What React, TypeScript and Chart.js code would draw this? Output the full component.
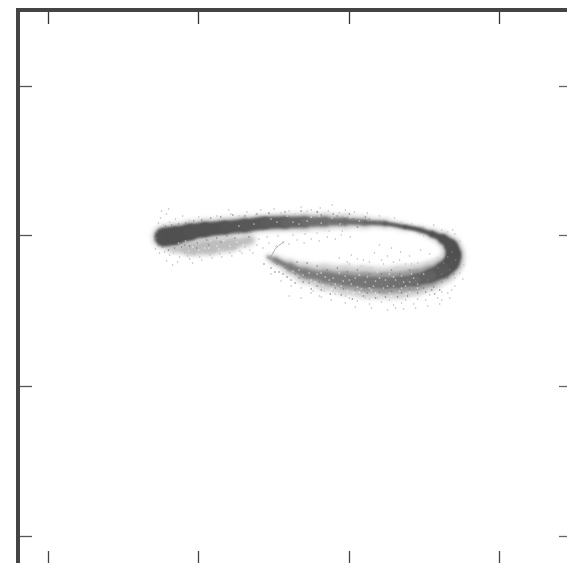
import React, { useEffect, useRef } from "react";
import { Chart, registerables } from "chart.js";

Chart.register(...registerables);

const xTicks = [0, 150, 300, 450];
const yTicks = [0, 150, 300, 450];

// ridge of the cloud
const ridgeX = [115.5, 126.4, 141.4, 156.3, 176.2, 196.1, 216, 236, 255.9, 275.8, 295.7, 315.6, 335.5, 355.4, 370.4, 382.3, 393.3, 401.2, 403.7, 401.2, 393.3, 380.3, 365.4, 350.4, 335.5, 315.6, 295.7, 275.8, 255.9, 240.9, 226, 219];
const ridgeY = [299, 300.5, 304, 306.5, 308.5, 310.5, 313, 313.5, 314, 314.5, 314.5, 313.5, 312.5, 309, 306, 302, 297, 290, 281, 273, 266, 260, 256, 254, 253, 254, 256, 259, 263, 269, 276, 279];
const coreSpread = [18, 16, 14, 13, 12, 12, 11, 10, 8, 6, 4.5, 3.5, 3, 3.5, 3.5, 5.5, 9, 13, 15, 15, 14, 12, 11, 11, 11, 10, 9, 7, 5, 3, 1, 0.5];
const coreTone = [80, 80, 82, 82, 85, 88, 92, 100, 110, 112, 110, 100, 85, 80, 80, 80, 80, 80, 80, 82, 88, 98, 108, 112, 115, 118, 122, 125, 125, 125, 130, 150];
const midSpread = [20, 18, 16, 15, 15, 14, 14, 13, 11, 9, 7, 5, 4, 4, 5, 7, 11, 15, 17, 18, 19, 20, 21, 21, 20, 18, 15, 12, 9, 6, 3, 1.5];
const outerSpread = [24, 22, 20, 19, 18, 17, 17, 17, 16, 14, 12, 9, 7, 5, 7, 10, 14, 19, 22, 24, 26, 28, 30, 31, 31, 29, 26, 21, 15, 10, 5, 2];

const lobeX = [124, 142, 162, 182, 201];
const lobeY = [291, 289, 290, 292, 296];
const lobeSpread = [14, 16, 14, 10, 5];

const hookX = [221, 224, 228, 235];
const hookY = [277, 283, 289, 294];

const greySpecks = [
  112,318, 115,311, 118,322, 121,314, 124,309, 127,317, 131,312, 134,320, 137,310, 141,315, 146,312, 150,319, 155,313, 160,316, 168,320, 175,317, 182,322, 190,320, 198,324, 207,321,
  117,307, 122,305, 128,306, 135,308, 143,309, 150,310, 158,312, 165,314, 172,314, 110,313, 113,325, 120,327, 180,326, 212,326, 225,327, 240,325, 252,329, 262,326, 271,328, 283,331,
  296,326, 305,324, 318,323, 330,320, 345,318, 220,322, 232,323, 246,322, 258,325, 268,324, 279,325, 290,323,
  116,284, 121,281, 127,286, 131,279, 136,283, 141,277, 146,282, 151,279, 156,284, 161,281, 166,285, 171,282, 176,286, 181,283, 186,288, 191,285, 196,289, 201,286, 208,291, 214,288,
  220,293, 227,290, 234,294, 240,292, 248,296, 255,293, 262,297, 270,295, 278,299, 286,297, 292,301, 301,299, 118,275, 124,271, 129,274, 144,273, 210,297, 218,299, 229,300, 244,301, 256,302, 268,303, 280,305, 293,305,
  330,291, 342,288, 351,284, 360,280, 371,286, 380,282, 388,278, 362,272, 350,276, 338,280, 325,283, 314,276, 302,281, 290,278, 300,272, 312,270, 322,268, 334,272, 346,268, 356,266, 366,266, 375,268,
  270,240, 282,236, 296,233, 308,235, 320,232, 332,234, 344,231, 356,236, 368,237, 380,241, 392,244, 405,250, 413,257, 300,238, 316,238, 328,238, 340,236, 352,233, 364,232, 376,236, 388,238, 398,243,
  405,258, 410,268, 412,276, 412,285, 410,295, 405,302, 398,304, 392,306, 384,311, 352,314, 362,312, 374,309, 384,305, 240,240, 252,238, 264,245, 275,245, 286,242, 346,228, 392,236, 402,246,
  125,283, 133,286, 139,280, 148,285, 153,276, 163,278, 173,279, 183,280, 193,283, 204,283, 111,283, 106,303, 106,295, 107,287, 298,274, 308,277, 320,274, 332,276, 344,274, 356,272, 368,273, 378,273, 306,229, 322,228, 338,226, 354,227, 366,228, 378,230, 390,232, 400,238,
  222,262, 232,255, 242,250, 252,248, 262,243, 272,239, 284,245, 296,240, 308,242, 320,237, 410,263, 408,283, 414,271, 403,306, 396,299, 388,301, 374,300,
];

const darkSpecks = [
  108,298, 109,304, 110,291, 112,307, 114,289, 117,310, 120,286, 123,311, 126,288, 130,312, 133,289, 137,313, 141,290, 145,315, 149,293, 153,316, 158,296, 162,318, 168,298, 172,319, 178,300, 184,321, 190,303, 196,320, 202,304, 208,322, 214,306, 220,323, 228,308, 236,324, 244,309, 252,325, 260,310, 268,324, 276,311, 284,322, 292,311, 300,322, 308,309, 316,319,
  215,272, 222,268, 230,264, 238,259, 246,253, 254,254, 262,247, 272,246, 281,242, 292,241, 303,237, 314,240, 326,238, 336,239, 348,239, 358,240, 368,243, 376,244, 384,249, 392,254, 398,258, 404,262,
  388,268, 394,273, 398,279, 402,284, 406,276, 408,270, 400,266, 392,262, 378,256, 370,262, 360,266, 350,262, 342,266, 332,262, 320,262, 308,266, 298,264, 288,268, 278,266, 268,270, 258,273, 248,274,
  352,243, 342,245, 330,244, 318,243, 306,246, 294,247, 282,251, 270,254, 258,258, 246,262, 236,268, 228,272, 360,247, 370,250, 378,252, 385,242,
  226,264, 234,262, 242,256, 250,258, 260,253, 268,250, 276,256, 286,248, 296,252, 304,256, 312,250, 322,255, 332,252, 340,256, 350,252, 358,256, 366,255, 374,248, 382,246, 390,246,
  264,310, 272,321, 280,313, 288,320, 296,311, 304,317, 312,312, 320,317, 328,314, 200,299, 186,298, 172,294, 160,291, 148,288, 136,291,
];

const whiteSpecks = [
  190,310, 205,312, 222,317, 238,320, 250,312, 262,319, 272,313, 283,318, 291,312, 301,319, 310,315, 258,315, 244,314, 270,320, 296,320, 228,314,
  292,250, 300,256, 308,249, 316,254, 324,250, 330,258, 338,250, 346,256, 352,248, 360,254, 368,248, 306,258, 318,259, 340,262, 328,264, 352,260, 296,260, 284,258, 276,259, 268,262, 290,263,
  304,243, 312,247, 322,246, 334,248, 344,250, 356,250, 364,258, 374,262, 280,256, 272,263, 260,263, 250,266,
  130,293, 137,295, 144,289, 150,293, 156,288, 162,295, 168,290, 175,295, 181,290, 188,294, 194,291, 140,285, 150,286, 160,288, 170,287,
  286,252, 294,255, 302,252, 310,261, 320,248, 326,255, 336,256, 344,259, 354,254, 362,262, 298,245, 310,244, 326,243, 340,243, 350,245, 360,244, 368,252, 262,256, 254,261, 244,265, 236,266,
  282,247, 274,251, 266,254, 288,243, 300,240, 314,242, 328,241, 342,240, 356,242,
];

const soften = {
  id: "soften",
  beforeDatasetDraw(chart: any, args: any) {
    const blur = chart.data.datasets[args.index].blur;
    if (blur) {
      chart.ctx.save();
      chart.ctx.filter = `blur(${blur}px)`;
    }
  },
  afterDatasetDraw(chart: any, args: any) {
    if (chart.data.datasets[args.index].blur) chart.ctx.restore();
  },
};

function App() {
  const ref = useRef<HTMLCanvasElement>(null);
  useEffect(() => {
    document.body.style.margin = "0";
    const pairs = (a: number[]) => {
      const out = [];
      for (let i = 0; i < a.length; i += 2) out.push({ x: a[i], y: a[i + 1] });
      return out;
    };
    const zip = (xs: number[], ys: number[]) => xs.map((x, i) => ({ x, y: ys[i] }));
    const band = (label: string, xs: number[], ys: number[], w: number[], color: any, blur: number) => ({
      label,
      blur,
      data: zip(xs, ys),
      showLine: true,
      tension: 0.4,
      pointRadius: 0,
      borderColor: typeof color === "string" ? color : `rgb(${color[0]},${color[0]},${color[0]})`,
      borderCapStyle: "round",
      borderJoinStyle: "round",
      borderWidth: w[0],
      segment: {
        borderWidth: (c: any) => w[c.p0DataIndex],
        borderColor: (c: any) =>
          typeof color === "string" ? color : `rgb(${color[c.p0DataIndex]},${color[c.p0DataIndex]},${color[c.p0DataIndex]})`,
      },
    });
    const specks = (label: string, a: number[], color: string, r: number) => ({
      label,
      data: pairs(a),
      pointRadius: r,
      pointBorderWidth: 0,
      backgroundColor: color,
      showLine: false,
    });
    const axis = (pos: string, ticks: number[], min: number, max: number, border: string, bw: number, tickColor: string) => ({
      type: "linear",
      position: pos,
      min,
      max,
      afterBuildTicks: (s: any) => {
        s.ticks = ticks.map((value) => ({ value }));
      },
      afterFit: (s: any) => {
        if (s.isHorizontal()) s.height = 0;
        else s.width = 0;
      },
      border: { display: true, color: border, width: bw },
      grid: { drawOnChartArea: false, drawTicks: true, tickLength: -14, tickWidth: 1.3, tickColor },
      ticks: { display: false },
      title: { display: false },
    });
    const chart = new Chart(ref.current!, {
      type: "scatter",
      data: {
        datasets: [
          specks("dark", darkSpecks, "#808080", 0.8),
          specks("light", whiteSpecks, "rgba(255,255,255,0.6)", 0.85),
          band("core", ridgeX, ridgeY, coreSpread, coreTone, 1.2),
          band("hook", hookX, hookY, [1, 1, 1], "#aaaaaa", 0.3),
          band("mid", ridgeX, ridgeY, midSpread, "#9c9c9c", 1.8),
          band("outer", ridgeX, ridgeY, outerSpread, "#d0d0d0", 2.5),
          band("lobe", lobeX, lobeY, lobeSpread, "#bdbdbd", 2.5),
          specks("grey", greySpecks, "#b4b4b4", 0.75),
        ] as any,
      },
      options: {
        animation: false,
        responsive: false,
        layout: { padding: { left: 18, top: 10, right: 27, bottom: 35 } },
        plugins: { legend: { display: false }, tooltip: { enabled: false } },
        scales: {
          x: axis("bottom", xTicks, -29.9, 522.7, "#555555", 4, "#444444"),
          x2: axis("top", xTicks, -29.9, 522.7, "#444444", 4, "#333333"),
          y: axis("left", yTicks, -29, 526, "#444444", 4, "#555555"),
          y2: axis("right", yTicks, -29, 526, "#555555", 4, "#666666"),
        } as any,
      },
      plugins: [soften],
    });
    return () => chart.destroy();
  }, []);
  return (
    <div style={{ position: "relative", width: 567, height: 563, overflow: "hidden", background: "#fff" }}>
      <canvas ref={ref} width={600} height={600} style={{ position: "absolute", left: 0, top: 0, width: 600, height: 600 }} />
    </div>
  );
}

export default App;
